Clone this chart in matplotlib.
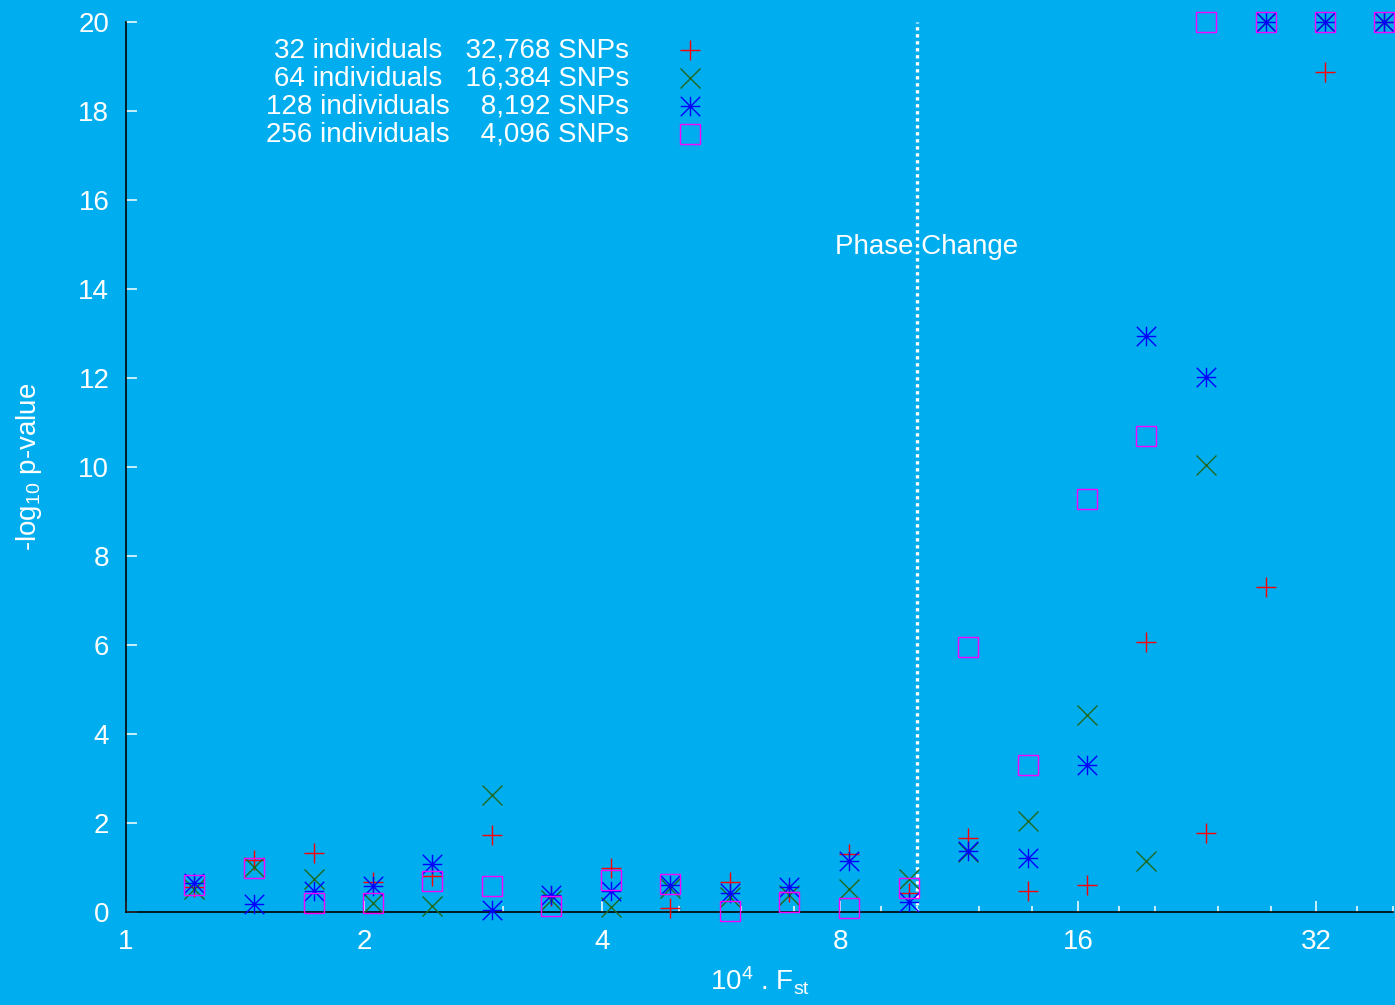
import numpy as np
import matplotlib
matplotlib.use("Agg")
import matplotlib.pyplot as plt
from matplotlib.path import Path
from matplotlib.ticker import FixedLocator, NullFormatter

plt.rcParams['font.family'] = ['Liberation Sans', 'DejaVu Sans']
plt.rcParams['mathtext.fontset'] = 'custom'
plt.rcParams['mathtext.rm'] = 'Liberation Sans'
plt.rcParams['mathtext.default'] = 'regular'

# 10^4 * Fst values (quarter-octave steps)
fst = [1.22, 1.45, 1.73, 2.05, 2.44, 2.90, 3.45, 4.10, 4.88, 5.80, 6.90,
       8.21, 9.76, 11.6, 13.8, 16.4, 19.5, 23.2, 27.6, 32.8, 39.0]

# -log10 p-values, capped at 20
p32 = [0.57, 1.17, 1.33, 0.68, 0.80, 1.73, 0.37, 0.99, 0.09, 0.68, 0.46,
       1.30, 0.43, 1.66, 0.47, 0.61, 6.07, 1.78, 7.30, 18.88, 20]
p64 = [0.52, 1.02, 0.74, 0.20, 0.13, 2.63, 0.27, 0.11, 0.53, 0.34, 0.38,
       0.52, 0.74, 1.36, 2.04, 4.43, 1.15, 10.04, 20, 20, 20]
p128 = [0.65, 0.18, 0.48, 0.59, 1.08, 0.04, 0.38, 0.48, 0.60, 0.43, 0.57,
        1.15, 0.23, 1.38, 1.21, 3.30, 12.94, 12.02, 20, 20, 20]
p256 = [0.61, 0.99, 0.21, 0.20, 0.70, 0.59, 0.13, 0.72, 0.63, 0.03, 0.23,
        0.09, 0.55, 5.96, 3.30, 9.28, 10.70, 20, 20, 20, 20]

labels = ["32 individuals   32,768 SNPs",
          "64 individuals   16,384 SNPs",
          "128 individuals    8,192 SNPs",
          "256 individuals    4,096 SNPs"]

phase_change = 10.0
x_major = [1, 2, 4, 8, 16, 32]
x_minor = [3, 5, 6, 7, 9, 10, 12, 14, 18, 20, 24, 28, 36, 40]
y_ticks = list(range(0, 21, 2))

# asterisk: plus and cross sharing one bounding square
star = Path([(-1, 0), (1, 0), (0, -1), (0, 1), (-1, -1), (1, 1), (-1, 1), (1, -1)],
            [Path.MOVETO, Path.LINETO] * 4)

bg = '#00AEEF'
styles = [
    dict(marker='+', color='#FF0000'),
    dict(marker='x', color='#1F6A1F'),
    dict(marker=star, color='#0000FF'),
    dict(marker='s', color='#FF00FF'),
]
series = [p32, p64, p128, p256]

fig = plt.figure(figsize=(13.95, 10.05), dpi=100, facecolor=bg)
ax = fig.add_axes([0.0903, 0.0925, 0.9083, 0.8856], facecolor=bg)

for vals, st in zip(series, styles):
    ax.plot(fst, vals, linestyle='none', marker=st['marker'], markersize=14,
            markeredgewidth=1.0, markeredgecolor=st['color'],
            markerfacecolor='none', clip_on=False, zorder=3)

ax.set_xscale('log', base=2)
ax.set_xlim(1, 40)
ax.set_ylim(0, 20)

ax.axvline(phase_change, color='white', linewidth=2.4, linestyle=(0, (1, 1.1)),
           zorder=2)
ax.text(10.3, 14.95, "Phase Change", color='white', fontsize=20,
        ha='center', va='center', zorder=4)

ax.xaxis.set_major_locator(FixedLocator(x_major))
ax.xaxis.set_minor_locator(FixedLocator(x_minor))
ax.xaxis.set_minor_formatter(NullFormatter())
ax.set_xticklabels([str(v) for v in x_major])
ax.set_yticks(y_ticks)

ax.tick_params(axis='both', which='major', direction='in', length=8, width=1.1,
               color='white', labelcolor='white', labelsize=20, pad=12)
ax.tick_params(axis='x', which='minor', direction='in', length=4.3, width=1.1,
               color='white')

for side in ['top', 'right']:
    ax.spines[side].set_visible(False)
for side in ['left', 'bottom']:
    ax.spines[side].set_color('black')
    ax.spines[side].set_linewidth(1.2)

ax.set_xlabel(r"10$^{4}$ . F$_{st}$", color='white', fontsize=20, labelpad=7)
ax.set_ylabel(r"-log$_{10}$ p-value", color='white', fontsize=20, labelpad=25)

# key: right-justified titles followed by sample markers
row_y = [0.9685, 0.9370, 0.9056, 0.8741]
for lab, yy, st in zip(labels, row_y, styles):
    ax.text(0.397, yy, lab, transform=ax.transAxes, color='white', fontsize=20,
            ha='right', va='center')
    ax.plot([0.445], [yy], transform=ax.transAxes, linestyle='none',
            marker=st['marker'], markersize=14, markeredgewidth=1.0,
            markeredgecolor=st['color'], markerfacecolor='none', clip_on=False)

fig.savefig("out.png", dpi=100, facecolor=bg)
